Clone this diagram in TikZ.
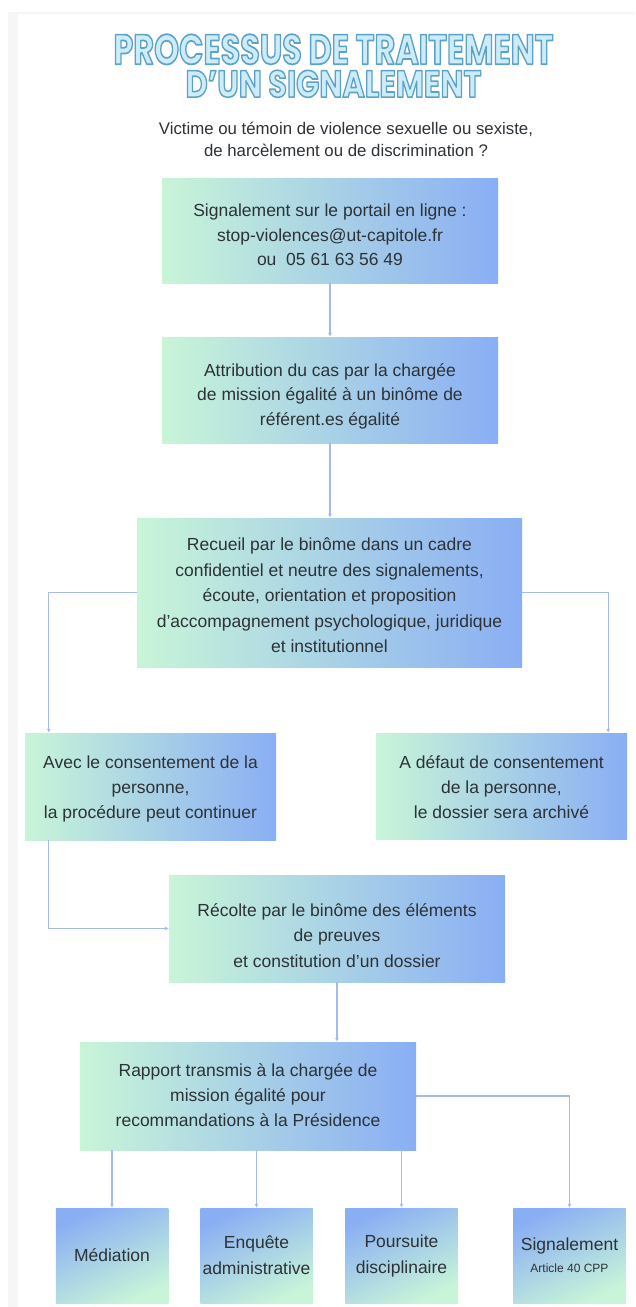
\documentclass[tikz,border=0pt]{standalone}
\usepackage{graphicx}
\usepackage{fontspec}
\setmainfont{Liberation Sans}
\newfontfamily\titlefont{Poppins}
\usetikzlibrary{arrows.meta,calc}
\definecolor{mintc}{RGB}{200,245,216}
\definecolor{periw}{RGB}{138,174,244}
\definecolor{linec}{RGB}{168,186,236}
\definecolor{txtc}{RGB}{45,50,55}
\definecolor{titlefill}{RGB}{205,236,249}
\definecolor{framec}{RGB}{246,246,246}
\newcommand{\outlinetext}[1]{\special{pdf:literal direct 1 j 1 J 1.8 w 0.36 0.63 0.78 RG 2 Tr}#1\special{pdf:literal direct 0 Tr}}
\newcommand{\lowertext}[2]{\raisebox{-#1}[\height][\depth]{\begin{tabular}{@{}c@{}}#2\end{tabular}}}
\begin{document}
\begin{tikzpicture}[x=1pt,y=-1pt,
  flowbox/.style={rectangle, inner sep=2pt, text=txtc,
    left color=mintc, right color=periw,
    font=\fontsize{17.5}{24.5}\selectfont},
  endbox/.style={rectangle, inner sep=1pt, align=center, text=txtc,
    top color=periw, bottom color=mintc, shading angle=25,
    minimum width=112.5pt, minimum height=95pt,
    font=\fontsize{17.5}{26}\selectfont},
  conn/.style={draw=linec, line width=1.2pt, -{Latex[length=4pt,width=4pt]}},
  titlenode/.style={inner sep=0pt, anchor=north, text=titlefill, align=center,
    font=\fontsize{10}{33}\selectfont}]
\useasboundingbox (0,0) rectangle (635,1307);
\fill[white] (0,0) rectangle (635,1307);
% faint frame
\fill[framec] (8,12) rectangle (635,14);
\fill[framec] (8,12) rectangle (18,1307);

% title
\node[titlenode] (title) at (333.5,34)
  {\resizebox{440pt}{30pt}{\fontsize{44}{44}\titlefont\bfseries\outlinetext{PROCESSUS DE TRAITEMENT}}\\
   \resizebox{296pt}{27pt}{\fontsize{44}{44}\titlefont\bfseries\outlinetext{D’UN SIGNALEMENT}}};

% subtitle
\node[align=center, text=txtc, font=\fontsize{16.8}{22}\selectfont] (sub) at (346,139)
  {Victime ou témoin de violence sexuelle ou sexiste,\\de harcèlement ou de discrimination ?};

% main boxes
\node[flowbox, minimum width=336pt, minimum height=105pt] (b1) at (330,230.5)
  {\lowertext{6pt}{Signalement sur le portail en ligne :\\stop-violences@ut-capitole.fr\\ou\ \ 05 61 63 56 49}};
\node[flowbox, minimum width=336pt, minimum height=106pt] (b2) at (330,390)
  {\lowertext{6pt}{Attribution du cas par la chargée\\de mission égalité à un binôme de\\référent.es égalité}};
\node[flowbox, minimum width=385pt, minimum height=149pt, font=\fontsize{17.5}{25.5}\selectfont] (b3) at (329.5,592.5)
  {\lowertext{4pt}{Recueil par le binôme dans un cadre\\confidentiel et neutre des signalements,\\écoute, orientation et proposition\\d’accompagnement psychologique, juridique\\et institutionnel}};
\node[flowbox, minimum width=251pt, minimum height=107pt, font=\fontsize{17.5}{25}\selectfont] (L) at (150.5,786.5)
  {\lowertext{2pt}{Avec le consentement de la\\personne,\\la procédure peut continuer}};
\node[flowbox, minimum width=251pt, minimum height=106pt, font=\fontsize{17.5}{25}\selectfont] (R) at (501.5,786)
  {\lowertext{2pt}{A défaut de consentement\\de la personne,\\le dossier sera archivé}};
\node[flowbox, minimum width=336pt, minimum height=107pt, font=\fontsize{17.5}{25.5}\selectfont] (b4) at (337,928.5)
  {\lowertext{8pt}{Récolte par le binôme des éléments\\de preuves\\et constitution d’un dossier}};
\node[flowbox, minimum width=336pt, minimum height=108pt, font=\fontsize{17.5}{25}\selectfont] (b5) at (248,1096)
  {\lowertext{0pt}{Rapport transmis à la chargée de\\mission égalité pour\\recommandations à la Présidence}};

% end boxes
\node[endbox] (M) at (112,1255.5) {Médiation};
\node[endbox] (E) at (256.5,1255.5) {Enquête\\administrative};
\node[endbox] (P) at (401.5,1255.5) {Poursuite\\disciplinaire};
\node[endbox] (S) at (569.5,1255.5) {Signalement\\[-4pt]{\fontsize{12}{14}\selectfont Article 40 CPP}};

% connectors
\draw[conn] (b1.south) -- (b1.south |- b2.north);
\draw[conn] (b2.south) -- (b2.south |- b3.north);
\coordinate (Lin) at ($(L.north west)+(24,0)$);
\coordinate (Rin) at ($(R.north east)+(-19,0)$);
\coordinate (Lout) at ($(L.south west)+(24,0)$);
\draw[conn] (b3.west) -| (Lin);
\draw[conn] (b3.east) -| (Rin);
\draw[conn] (Lout) |- (b4.west);
\draw[conn] (b4.south) -- (b4.south |- b5.north);
\draw[conn] (b5.south -| M.north) -- (M.north);
\draw[conn] (b5.south -| E.north) -- (E.north);
\draw[conn] (b5.south -| P.north) -- (P.north);
\draw[conn] (b5.east) -| (S.north);
\end{tikzpicture}
\end{document}
